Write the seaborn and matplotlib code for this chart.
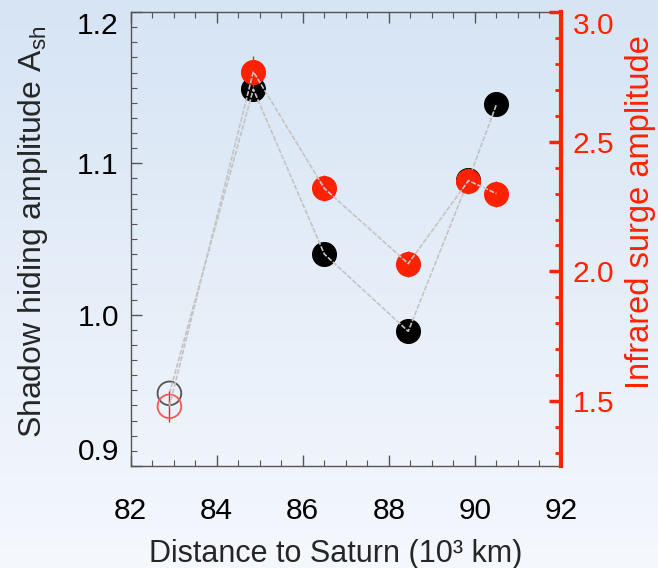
import numpy as np
import pandas as pd
import matplotlib
matplotlib.use("Agg")
import matplotlib.pyplot as plt
import seaborn as sns
from matplotlib.ticker import MultipleLocator

# --- Data ---
distance = [82.9, 84.85, 86.5, 88.45, 89.85, 90.5]          # 10^3 km
shadow_amp = [0.948, 1.149, 1.040, 0.989, 1.089, 1.139]     # left axis
ir_amp = [1.48, 2.77, 2.32, 2.03, 2.35, 2.30]               # right axis
ir_err = [0.06, 0.06, 0.05, 0.05, 0.05, 0.05]
hollow = [True, False, False, False, False, False]

x_ticks = [82, 84, 86, 88, 90, 92]
left_ticks = [0.9, 1.0, 1.1, 1.2]
right_ticks = [1.5, 2.0, 2.5, 3.0]

RED = "#ff2200"
GREY = "#555555"
LINE = "#c4c4c4"

df = pd.DataFrame({"distance": distance, "shadow": shadow_amp,
                   "ir": ir_amp, "ir_err": ir_err, "hollow": hollow})

sns.set_style("ticks")
plt.rcParams["font.family"] = ["Liberation Sans", "DejaVu Sans"]
plt.rcParams["mathtext.default"] = "regular"

fig = plt.figure(figsize=(6.58, 5.68), dpi=100)

# background gradient
bg = fig.add_axes([0, 0, 1, 1], zorder=-10)
grad = np.linspace(0, 1, 256)[:, None]
top_c = np.array([214, 228, 244]) / 255
bot_c = np.array([245, 248, 253]) / 255
img = top_c[None, None, :] * (1 - grad[..., None]) + bot_c[None, None, :] * grad[..., None]
bg.imshow(img, aspect="auto", extent=[0, 1, 0, 1])
bg.axis("off")

ax = fig.add_axes([0.1986, 0.1796, 0.654, 0.7993])
ax.set_facecolor("none")
ax2 = ax.twinx()
ax2.set_facecolor("none")

MS = 290

# --- left axis: shadow hiding amplitude ---
sns.scatterplot(data=df[~df["hollow"]], x="distance", y="shadow", ax=ax,
                color="black", edgecolor="black", s=MS, linewidth=1, zorder=3, legend=False)
sns.scatterplot(data=df[df["hollow"]], x="distance", y="shadow", ax=ax,
                color="none", edgecolor=GREY, s=MS, linewidth=1.3, zorder=3, legend=False)
sns.lineplot(data=df, x="distance", y="shadow", ax=ax, sort=False, estimator=None,
             color=LINE, lw=1.2, linestyle=(0, (3, 1)), zorder=4)

# --- right axis: infrared surge amplitude ---
ax2.errorbar(df["distance"], df["ir"], yerr=df["ir_err"], fmt="none",
             ecolor=RED, elinewidth=1, capsize=0, zorder=2)
sns.scatterplot(data=df[~df["hollow"]], x="distance", y="ir", ax=ax2,
                color=RED, edgecolor=RED, s=MS, linewidth=1, zorder=3, legend=False)
sns.scatterplot(data=df[df["hollow"]], x="distance", y="ir", ax=ax2,
                color="none", edgecolor="#ff5555", s=MS, linewidth=1.3, zorder=3, legend=False)
sns.lineplot(data=df, x="distance", y="ir", ax=ax2, sort=False, estimator=None,
             color=LINE, lw=1.2, linestyle=(0, (3, 1)), zorder=4)

# --- axes styling ---
ax.set_xlim(82, 92)
ax.set_ylim(0.9, 1.2)
ax.set_xticks(x_ticks)
ax.set_xticklabels([str(t) for t in x_ticks])
ax.set_yticks(left_ticks)
ax.set_yticklabels([f"{t:.1f}" for t in left_ticks])
ax.xaxis.set_minor_locator(MultipleLocator(0.5))
ax.yaxis.set_minor_locator(MultipleLocator(0.01))
ax.tick_params(which="both", direction="in", top=True, right=False,
               color=GREY, labelcolor="black", labelsize=21.5)
ax.tick_params(which="major", length=8, width=1)
ax.tick_params(which="minor", length=4.5, width=0.8)
ax.tick_params(axis="x", pad=22)
ax.tick_params(axis="y", pad=8.5)
for side in ["left", "top", "bottom"]:
    ax.spines[side].set_color(GREY)
    ax.spines[side].set_linewidth(1)
ax.spines["right"].set_visible(False)
ax.set_xlabel("")
ax.set_ylabel("")

ax2.set_ylim(1.25, 3.0)
ax2.set_yticks(right_ticks)
ax2.set_yticklabels([f"{t:.1f}" for t in right_ticks])
ax2.yaxis.set_minor_locator(MultipleLocator(0.1))
ax2.tick_params(axis="y", which="both", direction="in", color=RED,
                labelcolor=RED, labelsize=21.5, pad=8.5)
ax2.tick_params(axis="y", which="major", length=9, width=2.5)
ax2.tick_params(axis="y", which="minor", length=4, width=2)
for side in ["left", "top", "bottom"]:
    ax2.spines[side].set_visible(False)
ax2.spines["right"].set_color(RED)
ax2.spines["right"].set_linewidth(3)
ax2.set_ylabel("")

# end labels sit inside the axis range
yt = ax.yaxis.get_major_ticks()
yt[0].label1.set_va("bottom")
yt[-1].label1.set_va("top")
rt = ax2.yaxis.get_major_ticks()
rt[-1].label2.set_va("top")

# axis titles
fig.text(336 / 658, 6 / 568, "Distance to Saturn (10\u00b3 km)", ha="center",
         va="baseline", fontsize=22)
fig.text(33 / 658, 1 - 232 / 568, "Shadow hiding amplitude A$_{sh}$", rotation=90,
         ha="center", va="center", fontsize=23)
fig.text(641 / 658, 1 - 212 / 568, "Infrared surge amplitude", rotation=90,
         ha="center", va="center", fontsize=23.5, color=RED)

fig.savefig("out.png", dpi=100)
